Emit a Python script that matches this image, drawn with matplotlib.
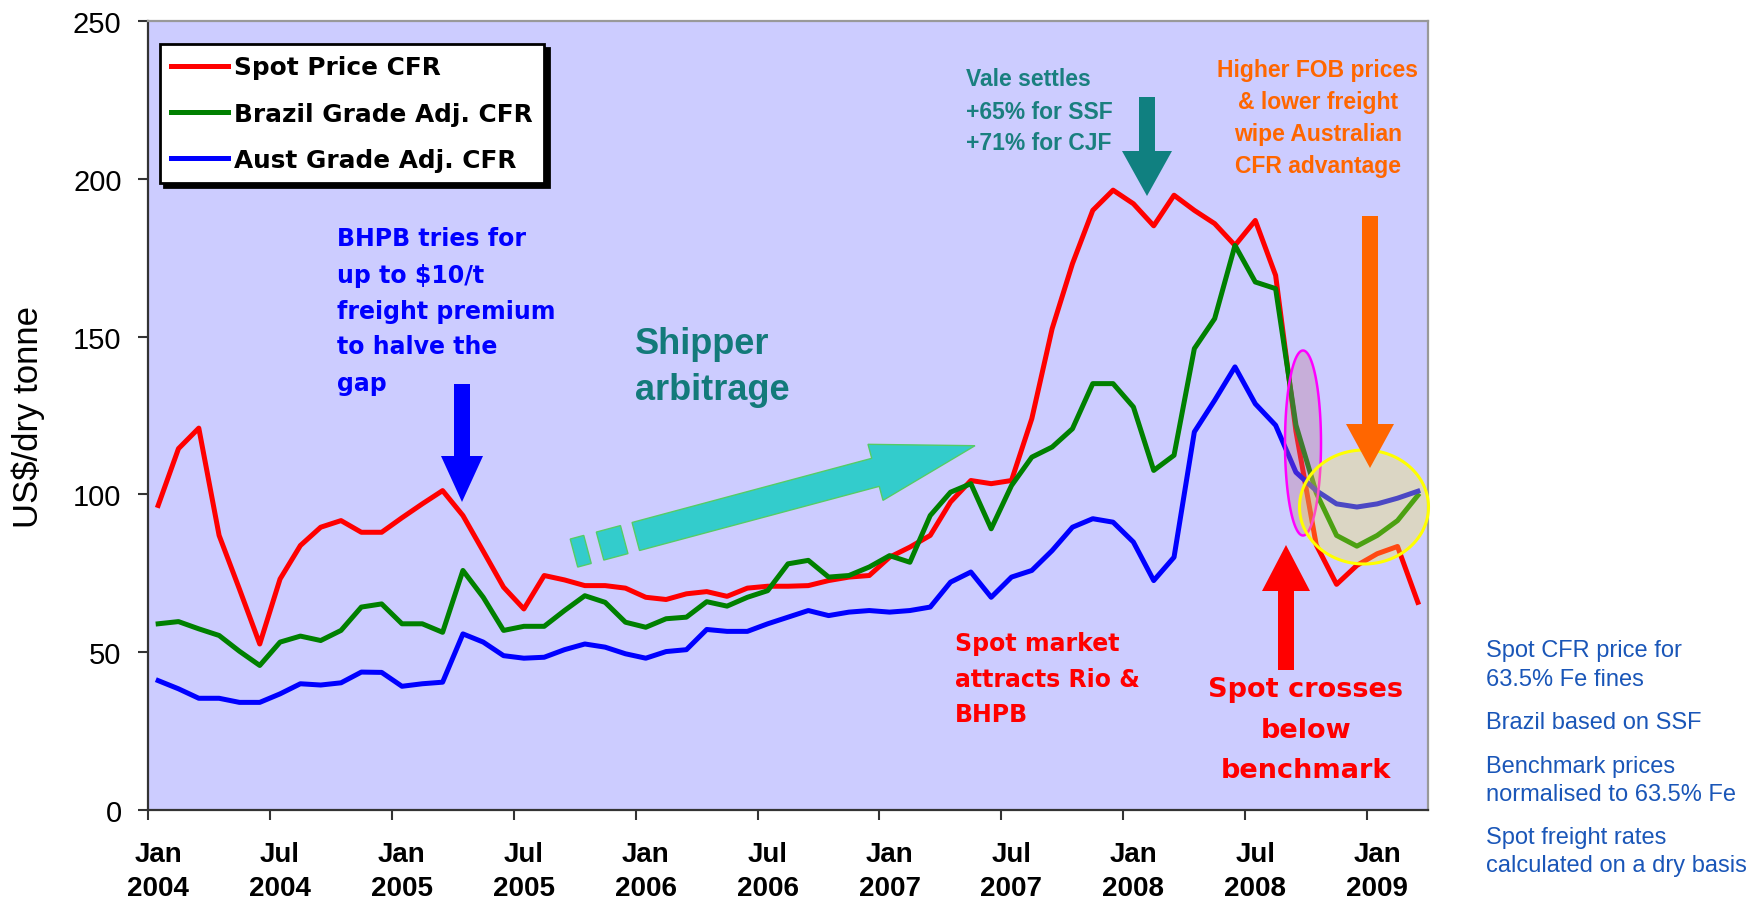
import numpy as np
import matplotlib
matplotlib.use("Agg")
import matplotlib.pyplot as plt
from matplotlib.patches import Polygon
from matplotlib.ticker import NullFormatter

# ---------------- data: monthly, Jan 2004 .. Mar 2009 (US$/dry tonne) ----------------
spot_cfr = [96.5, 114.5, 121.0, 87.0, 70.0, 52.6, 73.2, 83.8, 89.6, 91.7, 88.0, 88.0,
            92.6, 97.0, 101.2, 93.3, 82.0, 70.6, 63.7, 74.3, 72.9, 71.1, 71.1, 70.3,
            67.4, 66.7, 68.5, 69.2, 67.7, 70.3, 70.9, 70.9, 71.1, 72.7, 73.8, 74.3,
            80.1, 83.3, 87.0, 97.6, 104.4, 103.4, 104.4, 124.0, 152.5, 173.1, 190.0, 196.4,
            192.1, 185.1, 194.8, 190.0, 185.8, 178.9, 186.8, 169.4, 120.0, 84.0, 71.5, 77.5,
            81.2, 83.5, 65.8]
brazil_cfr = [59.0, 59.7, 57.4, 55.3, 50.3, 45.8, 53.2, 55.1, 53.7, 56.9, 64.3, 65.3,
              59.0, 59.0, 56.3, 75.9, 67.4, 56.9, 58.2, 58.2, 63.2, 67.9, 65.8, 59.5,
              57.9, 60.6, 61.1, 66.0, 64.6, 67.4, 69.5, 78.0, 79.1, 73.8, 74.3, 77.0,
              80.6, 78.5, 93.3, 100.7, 103.4, 89.1, 102.8, 111.8, 115.0, 120.8, 135.1, 135.1,
              127.7, 107.6, 112.4, 146.2, 155.7, 178.9, 167.3, 165.2, 122.0, 100.5, 87.0, 83.6,
              87.0, 91.7, 99.7]
aust_cfr = [41.0, 38.4, 35.4, 35.4, 34.1, 34.1, 36.8, 40.0, 39.6, 40.3, 43.7, 43.6,
            39.2, 40.0, 40.5, 55.8, 53.2, 48.9, 48.1, 48.4, 50.8, 52.6, 51.6, 49.5,
            48.1, 50.2, 50.8, 57.2, 56.6, 56.6, 59.0, 61.1, 63.2, 61.6, 62.7, 63.2,
            62.7, 63.2, 64.3, 72.2, 75.4, 67.4, 73.8, 75.9, 82.2, 89.6, 92.3, 91.2,
            84.9, 72.7, 80.1, 119.8, 129.8, 140.4, 128.7, 121.9, 107.0, 101.2, 97.0, 96.0,
            97.0, 98.8, 101.0]
series_labels = ["Spot Price CFR", "Brazil Grade Adj. CFR", "Aust Grade Adj. CFR"]
xtick_labels = ["Jan\n2004", "Jul\n2004", "Jan\n2005", "Jul\n2005", "Jan\n2006", "Jul\n2006",
                "Jan\n2007", "Jul\n2007", "Jan\n2008", "Jul\n2008", "Jan\n2009"]
ytick_values = [0, 50, 100, 150, 200, 250]
notes = ["Spot CFR price for", "63.5% Fe fines", "Brazil based on SSF", "Benchmark prices",
         "normalised to 63.5% Fe", "Spot freight rates", "calculated on a dry basis"]

# ---------------- figure ----------------
W, H, DPI = 1758, 903, 100
plt.rcParams['font.family'] = ['Liberation Sans', 'DejaVu Sans']
fig = plt.figure(figsize=(W / DPI, H / DPI), dpi=DPI)
fig.patch.set_facecolor('white')
ax = fig.add_axes([148 / W, (H - 811) / H, 1280 / W, 789 / H])
ax.set_facecolor('#ccccff')

n = len(spot_cfr)
x = np.arange(n) + 0.5
lw = 3.6
ax.plot(x, spot_cfr, color='#ff0000', lw=lw, label=series_labels[0], zorder=3)
ax.plot(x, brazil_cfr, color='#008000', lw=lw, label=series_labels[1], zorder=3)
ax.plot(x, aust_cfr, color='#0000ff', lw=lw, label=series_labels[2], zorder=3)

ax.set_xlim(0, n)
ax.set_ylim(0, 250)
ax.set_yticks(ytick_values)
ax.set_xticks(np.arange(0, n, 6))
ax.xaxis.set_major_formatter(NullFormatter())
ax.set_xticks(np.arange(0, n, 6) + 0.5, xtick_labels, minor=True,
              fontsize=20, fontweight='bold', linespacing=1.4)
ax.tick_params(axis='both', which='major', direction='out', length=7, width=1.5,
               color='#333333')
ax.tick_params(axis='x', which='minor', length=0, pad=22)
ax.tick_params(axis='y', which='major', pad=12, labelsize=21)
for s in ['left', 'bottom']:
    ax.spines[s].set_color('#333333')
    ax.spines[s].set_linewidth(1.6)
for s in ['top', 'right']:
    ax.spines[s].set_color('#999999')
    ax.spines[s].set_linewidth(1.6)

ax.set_ylabel('US$/dry tonne', fontsize=25, va='center')
ax.yaxis.set_label_coords((28 - 148) / 1280, 0.5)

leg = ax.legend(loc='upper left', bbox_to_anchor=(160 / W, 1 - 45 / H),
                bbox_transform=fig.transFigure, borderaxespad=0, frameon=True,
                fancybox=False, framealpha=1,
                shadow={'color': 'black', 'alpha': 1, 'ox': 3, 'oy': -3},
                prop={'family': 'DejaVu Sans', 'weight': 'bold', 'size': 17.8},
                handlelength=2.3, handletextpad=0.25, labelspacing=0.9, borderpad=0.46)
leg.get_frame().set_edgecolor('black')
leg.get_frame().set_linewidth(2)


# ---------------- annotation helpers (pixel positions from top-left) ----------------
def px2fig(pts):
    pts = np.asarray(pts, float)
    return np.column_stack([pts[:, 0] / W, 1 - pts[:, 1] / H])


def block_arrow(tail, tip, sw, hw, hl, dashes=(), **kw):
    tail = np.array(tail, float)
    tip = np.array(tip, float)
    d = tip - tail
    L = np.hypot(*d)
    u = d / L
    nrm = np.array([-u[1], u[0]])
    base = tip - u * hl
    pts = [tail + nrm * sw / 2, base + nrm * sw / 2, base + nrm * hw / 2, tip,
           base - nrm * hw / 2, base - nrm * sw / 2, tail - nrm * sw / 2]
    fig.add_artist(Polygon(px2fig(pts), closed=True, transform=fig.transFigure,
                           zorder=5, **kw))
    for t0, t1 in dashes:
        a = tail + u * t0
        b = tail + u * t1
        q = [a + nrm * sw / 2, b + nrm * sw / 2, b - nrm * sw / 2, a - nrm * sw / 2]
        fig.add_artist(Polygon(px2fig(q), closed=True, transform=fig.transFigure,
                               zorder=5, **kw))


def ellipse(cx, cy, w, h, **kw):
    t = np.linspace(0, 2 * np.pi, 240)
    pts = np.column_stack([cx + w / 2 * np.cos(t), cy + h / 2 * np.sin(t)])
    fig.add_artist(Polygon(px2fig(pts), closed=True, transform=fig.transFigure,
                           zorder=4, **kw))


def text_lines(px, ys, lines, **kw):
    for py, s in zip(ys, lines):
        fig.text(px / W, 1 - py / H, s, va='center_baseline', zorder=6, **kw)


# highlight ellipses
ellipse(1303, 444, 36, 185, facecolor=(0.75, 0.45, 0.55, 0.33), edgecolor='#ff00ff', lw=1.8)
ellipse(1364, 508, 129, 114, facecolor=(1.0, 0.94, 0.24, 0.30), edgecolor='#ffff00', lw=2.2)

# arrows
block_arrow((462, 385), (462, 503), 16, 42, 46, facecolor='#0000ff', edgecolor='none')
block_arrow((1147, 98), (1147, 197), 16, 50, 45, facecolor='#108080', edgecolor='none')
block_arrow((1370, 217), (1370, 469), 16, 48, 44, facecolor='#ff6600', edgecolor='none')
block_arrow((1286, 671), (1286, 546), 16, 48, 46, facecolor='#ff0000', edgecolor='none')
block_arrow((635.8, 537.5), (975, 446.7), 29, 58, 103, dashes=[(-64, -50), (-37, -12)],
            facecolor='#33cccc', edgecolor='#55cc66', lw=1)

# texts
bold_dv = dict(family='DejaVu Sans', fontweight='bold')
narrow = dict(family='Liberation Sans', fontweight='bold')
text_lines(337, [237, 273, 309, 345, 382],
           ["BHPB tries for", "up to $10/t", "freight premium", "to halve the", "gap"],
           color='#0000ff', fontsize=17, ha='left', **bold_dv)
text_lines(635, [340, 386], ["Shipper", "arbitrage"], color='#137a7a', fontsize=26,
           fontweight='bold', ha='left', family='Liberation Sans')
text_lines(966, [77, 110, 141], ["Vale settles", "+65% for SSF", "+71% for CJF"],
           color='#1a7f7f', fontsize=16.5, ha='left', **narrow)
text_lines(1318, [68, 100, 132, 164],
           ["Higher FOB prices", "& lower freight", "wipe Australian", "CFR advantage"],
           color='#ff6600', fontsize=16.5, ha='center', **narrow)
text_lines(955, [641.5, 677.5, 712.5], ["Spot market", "attracts Rio &", "BHPB"],
           color='#ff0000', fontsize=17, ha='left', **bold_dv)
text_lines(1306, [687, 728, 768], ["Spot crosses", "below", "benchmark"],
           color='#ff0000', fontsize=19.5, ha='center', **bold_dv)
text_lines(1486, [649, 678, 721, 764, 792.5, 836, 864], notes,
           color='#1a56b8', fontsize=17, ha='left', family='Liberation Sans')

fig.savefig('out.png', dpi=DPI, facecolor='white')
